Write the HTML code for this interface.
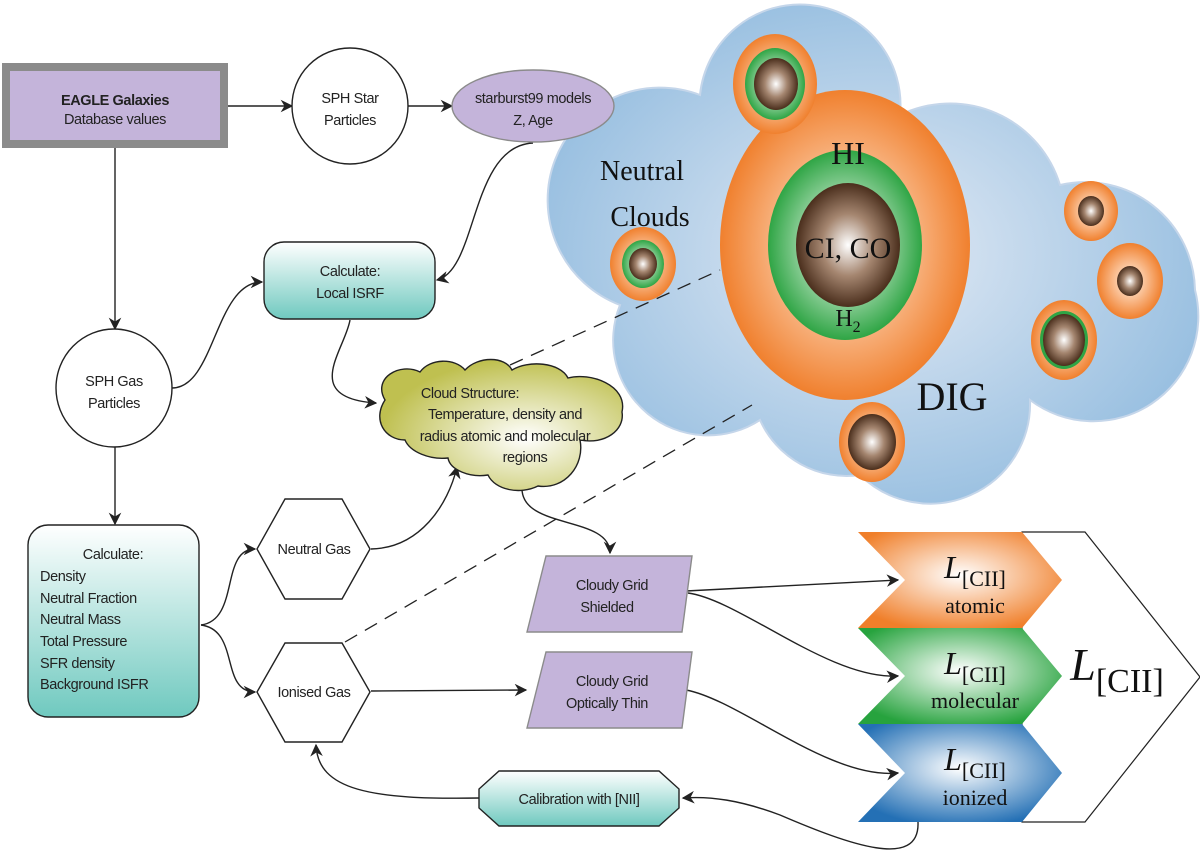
<!DOCTYPE html>
<html><head><meta charset="utf-8"><style>
html,body{margin:0;padding:0;background:#fff;width:1200px;height:856px;overflow:hidden}
svg{display:block}
.s{font-family:"Liberation Sans",sans-serif;font-size:14.5px;letter-spacing:-0.4px;fill:#222}
.r{font-family:"Liberation Serif",serif;fill:#111}
</style></head><body>
<svg width="1200" height="856" viewBox="0 0 1200 856" xmlns="http://www.w3.org/2000/svg">
<defs>
<marker id="a" viewBox="0 0 10 10" refX="9" refY="5" markerWidth="9" markerHeight="9" orient="auto-start-reverse"><path d="M0,0 L10,5 L0,10 L3,5 z" fill="#222"/></marker>
<radialGradient id="sky" cx="0.5" cy="0.5" r="0.6"><stop offset="0" stop-color="#e4ebf5"/><stop offset="1" stop-color="#8fbade"/></radialGradient>
<radialGradient id="or" cx="0.5" cy="0.5" r="0.5"><stop offset="0.4" stop-color="#fbc7a0"/><stop offset="1" stop-color="#f0802e"/></radialGradient>
<radialGradient id="gr" cx="0.5" cy="0.5" r="0.5"><stop offset="0.4" stop-color="#b9e2bf"/><stop offset="1" stop-color="#2fa545"/></radialGradient>
<radialGradient id="br" cx="0.5" cy="0.5" r="0.5"><stop offset="0" stop-color="#ffffff"/><stop offset="0.5" stop-color="#a58670"/><stop offset="1" stop-color="#4a2e1c"/></radialGradient>
<radialGradient id="ol" cx="0.6" cy="0.6" r="0.6"><stop offset="0" stop-color="#ffffff"/><stop offset="1" stop-color="#bfc050"/></radialGradient>
<radialGradient id="ao" cx="0.5" cy="0.45" r="0.6"><stop offset="0" stop-color="#fff"/><stop offset="1" stop-color="#f07f2a"/></radialGradient>
<radialGradient id="ag" cx="0.5" cy="0.45" r="0.6"><stop offset="0" stop-color="#fff"/><stop offset="1" stop-color="#27a33e"/></radialGradient>
<radialGradient id="ab" cx="0.5" cy="0.45" r="0.6"><stop offset="0" stop-color="#fff"/><stop offset="1" stop-color="#2470b5"/></radialGradient>
<linearGradient id="tl" x1="0" y1="0" x2="0" y2="1"><stop offset="0" stop-color="#ffffff"/><stop offset="1" stop-color="#6fc9bf"/></linearGradient>
</defs>

<g fill="url(#sky)" stroke="#c5d6ea" stroke-width="2">
<path d="M700,95 A100,100 0 0 1 900,115 A115,115 0 0 1 1060,185 A110,110 0 0 1 1195,290 A105,105 0 0 1 1030,400 A100,100 0 0 1 860,475 A95,95 0 0 1 760,420 A95,95 0 0 1 620,305 A110,110 0 0 1 700,95 z"/>
</g>
<ellipse cx="845" cy="245" rx="125" ry="155" fill="url(#or)"/>
<ellipse cx="845" cy="245" rx="77" ry="95" fill="url(#gr)"/>
<ellipse cx="848" cy="245" rx="52" ry="62" fill="url(#br)"/>
<text x="848" y="164" class="r" font-size="32" text-anchor="middle">HI</text>
<text x="848" y="258" class="r" font-size="30" text-anchor="middle">CI, CO</text>
<text x="848" y="326" class="r" font-size="24" text-anchor="middle">H<tspan font-size="16" dy="6">2</tspan></text>
<ellipse cx="775" cy="84" rx="42" ry="50" fill="url(#or)"/><ellipse cx="775" cy="84" rx="30" ry="36" fill="url(#gr)"/><ellipse cx="776" cy="84" rx="22" ry="26" fill="url(#br)"/>
<ellipse cx="643" cy="264" rx="33" ry="37" fill="url(#or)"/><ellipse cx="643" cy="264" rx="21" ry="24" fill="url(#gr)"/><ellipse cx="643" cy="264" rx="14" ry="16" fill="url(#br)"/>
<ellipse cx="1091" cy="211" rx="27" ry="30" fill="url(#or)"/><ellipse cx="1091" cy="211" rx="13" ry="15" fill="url(#br)"/>
<ellipse cx="1130" cy="281" rx="33" ry="38" fill="url(#or)"/><ellipse cx="1130" cy="281" rx="13" ry="15" fill="url(#br)"/>
<ellipse cx="1064" cy="340" rx="33" ry="40" fill="url(#or)"/><ellipse cx="1064" cy="340" rx="24" ry="29" fill="#2fa545"/><ellipse cx="1064" cy="340" rx="21" ry="26" fill="url(#br)"/>
<ellipse cx="872" cy="442" rx="33" ry="40" fill="url(#or)"/><ellipse cx="872" cy="442" rx="24" ry="28" fill="url(#br)"/>
<text x="642" y="180" class="r" font-size="28" text-anchor="middle">Neutral</text>
<text x="650" y="226" class="r" font-size="28" text-anchor="middle">Clouds</text>
<text x="952" y="410" class="r" font-size="40" text-anchor="middle">DIG</text>

<g stroke="#222" stroke-width="1.3" stroke-dasharray="14,9" fill="none">
<line x1="510" y1="365" x2="720" y2="270"/>
<line x1="345" y1="642" x2="752" y2="405"/>
</g>

<g stroke="#222" stroke-width="1.4" fill="none" marker-end="url(#a)">
<line x1="228" y1="106" x2="292" y2="106"/>
<line x1="408" y1="106" x2="452" y2="106"/>
<line x1="115" y1="148" x2="115" y2="329"/>
<path d="M533,143 C470,146 478,270 437,280"/>
<path d="M172,388 C215,388 215,282 262,282"/>
<path d="M350,320 C345,350 300,398 376,403"/>
<line x1="115" y1="447" x2="115" y2="524"/>
<path d="M201,625 C240,620 220,549 255,549"/>
<path d="M201,625 C240,630 220,692 255,692"/>
<path d="M371,549 C420,548 448,505 457,467"/>
<line x1="371" y1="691" x2="526" y2="690"/>
<path d="M522,487 C520,530 610,515 610,553"/>
<path d="M480,798 C370,800 318,790 316,745"/>
<line x1="686" y1="591" x2="898" y2="580"/>
<path d="M688,593 C740,600 830,680 898,676"/>
<path d="M686,690 C740,700 830,780 898,773"/>
<path d="M918,822 C920,870 850,845 780,815 C740,800 710,796 683,798"/>
</g>

<rect x="6" y="67" width="218" height="77" fill="#c4b4da" stroke="#8b8b8b" stroke-width="8"/>
<text x="115" y="105" class="s" text-anchor="middle" font-weight="bold">EAGLE Galaxies</text>
<text x="115" y="124" class="s" text-anchor="middle">Database values</text>
<ellipse cx="350" cy="106" rx="58" ry="58" fill="#fff" stroke="#222" stroke-width="1.4"/>
<text x="350" y="103" class="s" text-anchor="middle">SPH Star</text>
<text x="350" y="125" class="s" text-anchor="middle">Particles</text>
<ellipse cx="533" cy="106" rx="81" ry="36" fill="#c4b4da" stroke="#8b8b8b" stroke-width="1.4"/>
<text x="533" y="103" class="s" text-anchor="middle">starburst99 models</text>
<text x="533" y="125" class="s" text-anchor="middle">Z, Age</text>
<rect x="264" y="242" width="171" height="77" rx="20" fill="url(#tl)" stroke="#222" stroke-width="1.4"/>
<text x="350" y="276" class="s" text-anchor="middle">Calculate:</text>
<text x="350" y="298" class="s" text-anchor="middle">Local ISRF</text>
<ellipse cx="114" cy="388" rx="58" ry="59" fill="#fff" stroke="#222" stroke-width="1.4"/>
<text x="114" y="386" class="s" text-anchor="middle">SPH Gas</text>
<text x="114" y="408" class="s" text-anchor="middle">Particles</text>
<path d="M385,400 C372,378 400,362 420,372 C430,358 455,358 465,370 C478,356 505,356 512,370 C528,360 560,362 568,378 C590,372 628,385 622,412 C625,430 605,445 580,440 C585,465 565,490 538,486 C520,495 495,490 488,475 C470,478 450,470 448,458 C430,460 410,452 405,440 C385,440 372,420 385,400 z" fill="url(#ol)" stroke="#222" stroke-width="1.4"/>
<text x="470" y="398" class="s" text-anchor="middle">Cloud Structure:</text>
<text x="505" y="419" class="s" text-anchor="middle">Temperature, density and</text>
<text x="505" y="441" class="s" text-anchor="middle" font-size="13.5">radius atomic and molecular</text>
<text x="525" y="462" class="s" text-anchor="middle">regions</text>
<rect x="28" y="525" width="171" height="192" rx="20" fill="url(#tl)" stroke="#222" stroke-width="1.4"/>
<text x="113" y="559" class="s" text-anchor="middle">Calculate:</text>
<g class="s"><text x="40" y="581">Density</text><text x="40" y="603">Neutral Fraction</text><text x="40" y="624">Neutral Mass</text><text x="40" y="646">Total Pressure</text><text x="40" y="668">SFR density</text><text x="40" y="689">Background ISFR</text></g>
<polygon points="285,499 342,499 370,549 342,599 285,599 257,549" fill="#fff" stroke="#222" stroke-width="1.4"/>
<text x="314" y="554" class="s" text-anchor="middle">Neutral Gas</text>
<polygon points="285,643 342,643 370,692 342,742 285,742 257,692" fill="#fff" stroke="#222" stroke-width="1.4"/>
<text x="314" y="697" class="s" text-anchor="middle">Ionised Gas</text>
<polygon points="546,556 692,556 682,632 527,632" fill="#c4b4da" stroke="#8b8b8b" stroke-width="1.4"/>
<text x="612" y="590" class="s" text-anchor="middle">Cloudy Grid</text>
<text x="607" y="612" class="s" text-anchor="middle">Shielded</text>
<polygon points="546,652 692,652 682,728 527,728" fill="#c4b4da" stroke="#8b8b8b" stroke-width="1.4"/>
<text x="612" y="686" class="s" text-anchor="middle">Cloudy Grid</text>
<text x="607" y="708" class="s" text-anchor="middle">Optically Thin</text>
<polygon points="499,771 659,771 679,789 679,808 659,826 499,826 479,808 479,789" fill="url(#tl)" stroke="#222" stroke-width="1.4"/>
<text x="579" y="804" class="s" text-anchor="middle">Calibration with [NII]</text>

<polygon points="1022,532 1085,532 1200,677 1085,822 1022,822" fill="#fff" stroke="#222" stroke-width="1.2"/>
<polygon points="858,532 1022,532 1062,580 1022,628 858,628 905,580" fill="url(#ao)"/>
<polygon points="858,628 1022,628 1062,676 1022,724 858,724 905,676" fill="url(#ag)"/>
<polygon points="858,724 1022,724 1062,773 1022,822 858,822 905,773" fill="url(#ab)"/>
<g class="r" text-anchor="middle">
<text x="975" y="578" font-size="32"><tspan font-style="italic">L</tspan><tspan font-size="22" dy="8">[CII]</tspan></text>
<text x="975" y="613" font-size="22">atomic</text>
<text x="975" y="674" font-size="32"><tspan font-style="italic">L</tspan><tspan font-size="22" dy="8">[CII]</tspan></text>
<text x="975" y="708" font-size="22">molecular</text>
<text x="975" y="770" font-size="32"><tspan font-style="italic">L</tspan><tspan font-size="22" dy="8">[CII]</tspan></text>
<text x="975" y="805" font-size="22">ionized</text>
<text x="1117" y="680" font-size="46"><tspan font-style="italic">L</tspan><tspan font-size="34" dy="12">[CII]</tspan></text>
</g>
</svg>
</body></html>
